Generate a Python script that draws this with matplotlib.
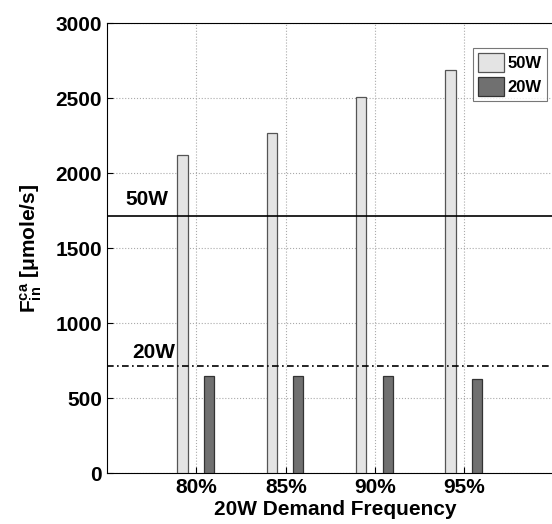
import numpy as np
from matplotlib import pyplot as plt

plt.rcParams['font.family'] = ['Liberation Sans', 'DejaVu Sans']
plt.rcParams['mathtext.fontset'] = 'custom'
plt.rcParams['mathtext.rm'] = 'Liberation Sans:bold'
plt.rcParams['mathtext.it'] = 'Liberation Sans:bold'
plt.rcParams['mathtext.bf'] = 'Liberation Sans:bold'

categories = ['80%', '85%', '90%', '95%']
flow_50w = [2120, 2270, 2510, 2690]
flow_20w = [650, 648, 645, 630]
level_50w = 1715
level_20w = 715

fig = plt.figure(figsize=(5.52, 5.24), dpi=100)
# axes run slightly past the right edge, so the right spine is cut off
ax = fig.add_axes([0.194, 0.097, 0.8255, 0.859])

x = np.arange(1, len(categories) + 1)
ax.bar(x - 0.155, flow_50w, width=0.115, color='#e4e4e4', edgecolor='#555555',
       linewidth=0.9, label='50W', zorder=3)
ax.bar(x + 0.14, flow_20w, width=0.115, color='#707070', edgecolor='#333333',
       linewidth=0.9, label='20W', zorder=3)

ax.axhline(level_50w, color='black', linewidth=1.2, zorder=4)
ax.axhline(level_20w, color='black', linewidth=1.2, linestyle=(0, (4, 2, 1, 2)), zorder=4)
ax.text(0.2, level_50w + 70, '50W', fontsize=15, fontweight='bold')
ax.text(0.28, level_20w + 55, '20W', fontsize=15, fontweight='bold')

ax.set_xlim(0, 5.1)
ax.set_ylim(0, 3000)
ax.set_xticks(x)
ax.set_xticklabels(categories)
ax.set_yticks(np.arange(0, 3001, 500))
ax.grid(True, linestyle=':', color='#aaaaaa', linewidth=0.8, zorder=0)
ax.tick_params(direction='in', labelsize=15, length=4)
for lbl in ax.get_xticklabels() + ax.get_yticklabels():
    lbl.set_fontweight('bold')

ax.set_xlabel('20W Demand Frequency', fontsize=15, fontweight='bold', labelpad=2)
ax.set_ylabel(r'F$_{in}^{ca}$ [$\mathregular{\mu}$mole/s]', fontsize=15, fontweight='bold', labelpad=8)

leg = ax.legend(loc='upper right', bbox_to_anchor=(0.972, 0.952),
                prop={'weight': 'bold', 'size': 12}, fancybox=False, edgecolor='#555555',
                handlelength=1.6, handleheight=1.4, handletextpad=0.2, borderpad=0.3,
                labelspacing=0.3, borderaxespad=0.2)
leg.get_frame().set_linewidth(0.8)

fig.savefig('out.png', dpi=100)
